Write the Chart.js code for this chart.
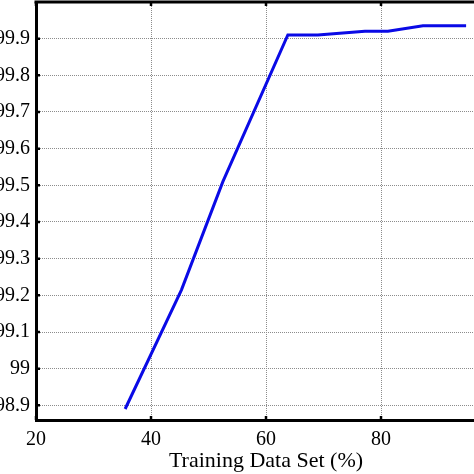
<!DOCTYPE html>
<html>
<head>
<meta charset="utf-8">
<script src="https://cdn.jsdelivr.net/npm/chart.js@4.4.1/dist/chart.umd.min.js"></script>
<style>
  html, body { margin: 0; padding: 0; background: #fff; overflow: hidden; }
  #wrap { position: absolute; left: -20px; top: 0; width: 540px; height: 474px; }
</style>
</head>
<body>
<div id="wrap"><canvas id="chart"></canvas></div>
<script>
// training set size (%) vs accuracy
const trainingPct = [35.5, 45.3, 52.5, 63.8, 69, 77.2, 81.2, 87.3, 94.8];
const accuracy = [98.89, 99.215, 99.51, 99.91, 99.91, 99.92, 99.92, 99.935, 99.935];
const xTicks = [20, 40, 60, 80, 100];
const yTicks = [98.9, 99, 99.1, 99.2, 99.3, 99.4, 99.5, 99.6, 99.7, 99.8, 99.9];

const serif = 'Liberation Serif, Times New Roman, serif';

// matlab style frame: top line + inward tick marks
const framePlugin = {
  id: 'frame',
  afterDraw(chart) {
    const ctx = chart.ctx;
    const a = chart.chartArea;
    const xs = chart.scales.x, ys = chart.scales.y;
    ctx.save();
    ctx.strokeStyle = '#000';
    ctx.lineWidth = 3;
    ctx.beginPath();
    ctx.moveTo(a.left - 1.5, a.top);
    ctx.lineTo(a.right, a.top);
    ctx.stroke();
    ctx.lineWidth = 2.5;
    ctx.beginPath();
    yTicks.forEach(v => {
      const y = ys.getPixelForValue(v);
      ctx.moveTo(a.left, y);
      ctx.lineTo(a.left + 4, y);
    });
    xTicks.forEach(v => {
      const x = xs.getPixelForValue(v);
      ctx.moveTo(x, a.bottom);
      ctx.lineTo(x, a.bottom - 4);
      ctx.moveTo(x, a.top);
      ctx.lineTo(x, a.top + 4);
    });
    ctx.stroke();
    ctx.restore();
  }
};

const ctx = document.getElementById('chart').getContext('2d');
const chart = new Chart(ctx, {
  type: 'line',
  data: {
    datasets: [{
      data: trainingPct.map((x, i) => ({ x: x, y: accuracy[i] })),
      borderColor: '#0a0ae6',
      borderWidth: 3,
      pointRadius: 0,
      tension: 0,
      fill: false
    }]
  },
  options: {
    responsive: true,
    maintainAspectRatio: false,
    animation: false,
    layout: { padding: { top: 2, right: 24, bottom: 0, left: 0 } },
    plugins: { legend: { display: false }, tooltip: { enabled: false } },
    scales: {
      x: {
        type: 'linear',
        min: 20,
        max: 100,
        afterBuildTicks: s => { s.ticks = xTicks.map(v => ({ value: v })); },
        afterFit: s => { s.height = 54; },
        grid: { color: '#8c8c8c', drawTicks: false },
        border: { color: '#000', width: 3, dash: [1, 1] },
        ticks: {
          color: '#000',
          padding: 8,
          maxRotation: 0,
          font: { family: serif, size: 20 }
        },
        title: {
          display: true,
          text: 'Training Data Set (%)',
          color: '#000',
          padding: { top: 0, bottom: 0 },
          font: { family: serif, size: 22 }
        }
      },
      y: {
        min: 98.86,
        max: 100,
        afterBuildTicks: s => { s.ticks = yTicks.map(v => ({ value: v })); },
        afterFit: s => { s.width = 56; s.paddingTop = 0; s.paddingBottom = 0; },
        grid: { color: '#8c8c8c', drawTicks: false },
        border: { color: '#000', width: 3, dash: [1, 1] },
        ticks: {
          color: '#000',
          padding: 6,
          font: { family: serif, size: 20 },
          callback: v => String(Math.round(v * 10) / 10)
        }
      }
    }
  },
  plugins: [framePlugin]
});
</script>
</body>
</html>
